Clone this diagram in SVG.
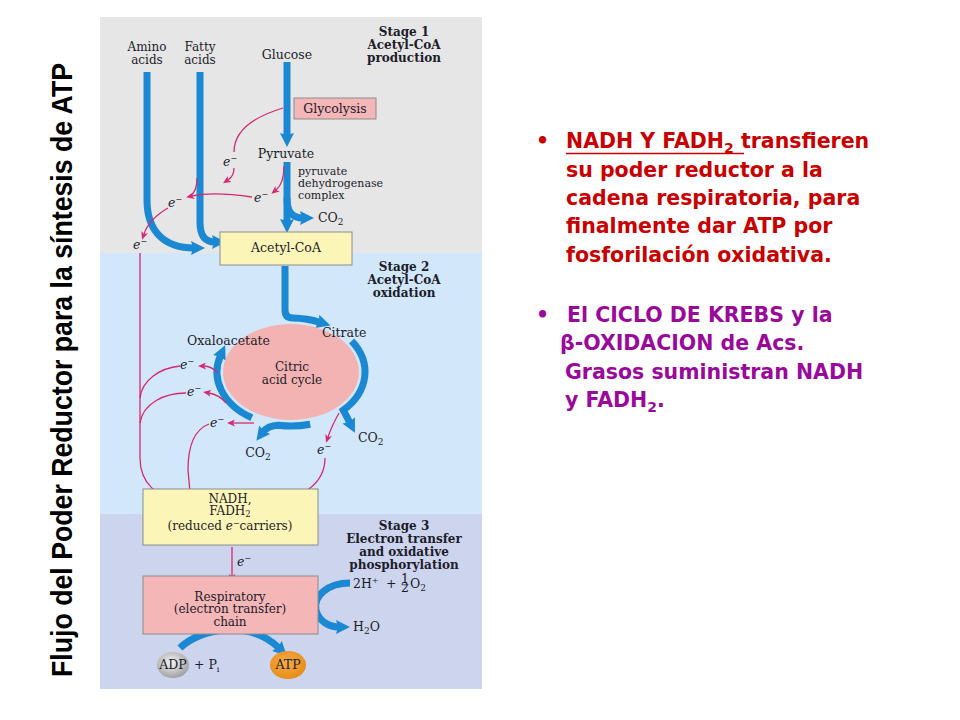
<svg xmlns="http://www.w3.org/2000/svg" width="960" height="720" viewBox="0 0 960 720">
<defs>
<style>
.lbl{font-family:"DejaVu Serif","Liberation Serif",serif;font-size:12.5px;fill:#1c1c2a}
.sm{font-size:11px}
.stk{font-size:12px}
.stg{font-family:"DejaVu Serif","Liberation Serif",serif;font-size:12px;font-weight:bold;fill:#1c1c2a;text-anchor:middle}
.mid{text-anchor:middle}
.blue{fill:none;stroke:#1a88d2;stroke-width:7}
.pink{fill:none;stroke:#d42a72;stroke-width:1.3}
.ybox{fill:#fcf5b8;stroke:#8c8c8c;stroke-width:1}
.pbox{fill:#f4b6b6;stroke:#8c8c8c;stroke-width:1}
.bul{font-family:"DejaVu Sans","Liberation Sans",sans-serif;font-weight:bold;font-size:20.5px}
.red{fill:#c80000}
.pur{fill:#9a0a9a}
</style>
<marker id="ab" markerUnits="userSpaceOnUse" markerWidth="14" markerHeight="14" refX="3" refY="7" orient="auto"><path d="M0,0 L14,7 L0,14 L2,7 z" fill="#1a88d2"/></marker>
<marker id="ap" markerUnits="userSpaceOnUse" markerWidth="8" markerHeight="7" refX="2" refY="3.5" orient="auto"><path d="M0,0 L8,3.5 L0,7 L2,3.5 z" fill="#d42a72"/></marker>
<linearGradient id="gTop" gradientUnits="userSpaceOnUse" x1="0" y1="72" x2="0" y2="140"><stop offset="0" stop-color="#dcebf8"/><stop offset="1" stop-color="#1a88d2"/></linearGradient>
<linearGradient id="gGlu" gradientUnits="userSpaceOnUse" x1="0" y1="62" x2="0" y2="100"><stop offset="0" stop-color="#dcebf8"/><stop offset="1" stop-color="#1a88d2"/></linearGradient>
<linearGradient id="gAc" gradientUnits="userSpaceOnUse" x1="0" y1="266" x2="0" y2="298"><stop offset="0" stop-color="#d8e9f8"/><stop offset="1" stop-color="#1a88d2"/></linearGradient>
<linearGradient id="gR" gradientUnits="userSpaceOnUse" x1="352" y1="340" x2="366" y2="374"><stop offset="0" stop-color="#d8e9f8"/><stop offset="1" stop-color="#1a88d2"/></linearGradient>
<linearGradient id="gB" gradientUnits="userSpaceOnUse" x1="312" y1="424" x2="288" y2="426"><stop offset="0" stop-color="#d8e9f8"/><stop offset="1" stop-color="#1a88d2"/></linearGradient>
<linearGradient id="gL" gradientUnits="userSpaceOnUse" x1="254" y1="419" x2="224" y2="392"><stop offset="0" stop-color="#d8e9f8"/><stop offset="1" stop-color="#1a88d2"/></linearGradient>
<linearGradient id="gH" gradientUnits="userSpaceOnUse" x1="350" y1="583" x2="320" y2="594"><stop offset="0" stop-color="#d4dbf1"/><stop offset="1" stop-color="#1a88d2"/></linearGradient>
<linearGradient id="gA" gradientUnits="userSpaceOnUse" x1="180" y1="648" x2="218" y2="630"><stop offset="0" stop-color="#d4dbf1"/><stop offset="1" stop-color="#1a88d2"/></linearGradient>
<radialGradient id="gADP" cx="0.45" cy="0.4" r="0.65"><stop offset="0" stop-color="#f6f6f6"/><stop offset="1" stop-color="#9a9a9a"/></radialGradient>
<radialGradient id="gATP" cx="0.45" cy="0.4" r="0.65"><stop offset="0" stop-color="#f6ac48"/><stop offset="1" stop-color="#e58a14"/></radialGradient>
</defs>
<rect width="960" height="720" fill="#ffffff"/>

<g id="panel">
<rect x="100" y="17" width="382" height="236" fill="#e6e6e6"/>
<rect x="100" y="253" width="382" height="261" fill="#d2e7f9"/>
<rect x="100" y="514" width="382" height="175" fill="#ccd4ee"/>
</g>

<g id="title">
<text transform="translate(72,370) rotate(-90)" text-anchor="middle" font-family="'Liberation Sans',Arial,sans-serif" font-weight="bold" font-size="29" textLength="614" lengthAdjust="spacingAndGlyphs" fill="#000">Flujo del Poder Reductor para la síntesis de ATP</text>
</g>

<g id="connectors">
<path class="blue" stroke="url(#gTop)" d="M147,72 L147,200 C147,232 165,248 194,248" marker-end="url(#ab)"/>
<path class="blue" stroke="url(#gTop)" d="M200,72 L200,222 C200,236 205,242 215,242" marker-end="url(#ab)"/>
<path class="blue" stroke="url(#gGlu)" d="M287,62 L287,136" marker-end="url(#ab)"/>
<path class="blue" d="M287,162 L287,222" marker-end="url(#ab)"/>
<path class="blue" d="M287,198 C287,212 292,218 303,218" marker-end="url(#ab)"/>
<path class="blue" stroke="url(#gAc)" d="M285,266 L285,310 Q285,318 293,318 A74,54 0 0 1 320,322.3" marker-end="url(#ab)"/>
<path class="blue" stroke="url(#gR)" d="M351.6,341 A74,54 0 0 1 343.3,410.2 C346,415 348,419 350,423" marker-end="url(#ab)"/>
<path class="blue" stroke="url(#gB)" d="M310.2,424.2 A74,54 0 0 1 278.2,425.2 C272,425.5 266,428 263,432" marker-end="url(#ab)"/>
<path class="blue" stroke="url(#gL)" d="M251.8,417.8 A74,54 0 0 1 220.6,355.3" marker-end="url(#ab)"/>
<path class="blue" stroke="url(#gH)" d="M350,583 C328,583 313,596 316,610 C319,622 330,627 339,627" marker-end="url(#ab)"/>
<path class="blue" stroke="url(#gA)" d="M180,648 C200,628 250,620 279,648" marker-end="url(#ab)"/>
<path class="pink" d="M283,108 C250,118 234,132 234,152"/>
<path class="pink" d="M234,168 C234,174 231,178 228,180" marker-end="url(#ap)"/>
<path class="pink" d="M284,166 C284,180 281,186 276,190" marker-end="url(#ap)"/>
<path class="pink" d="M252,197 C232,194 210,192 192,196" marker-end="url(#ap)"/>
<path class="pink" d="M197,178 C197,188 195,193 190,196"/>
<path class="pink" d="M168,208 C156,215 147,225 144,234" marker-end="url(#ap)"/>
<path class="pink" d="M140,253 L140,458 C140,484 158,497 178,500" marker-end="url(#ap)"/>
<path class="pink" d="M218,373 C213,368 209,366 204,366" marker-end="url(#ap)"/>
<path class="pink" d="M180,366 C160,368 142,380 140,398"/>
<path class="pink" d="M226,403 C221,397 215,394 209,393" marker-end="url(#ap)"/>
<path class="pink" d="M186,393 C165,393 143,403 140,423"/>
<path class="pink" d="M254,423 L233,423" marker-end="url(#ap)"/>
<path class="pink" d="M209,424 C193,430 188,448 188,470 L190,492" marker-end="url(#ap)"/>
<path class="pink" d="M339,413 C334,422 330,431 328,437" marker-end="url(#ap)"/>
<path class="pink" d="M325,458 C325,485 300,500 260,506" marker-end="url(#ap)"/>
<path class="pink" d="M232,547 L232,576" marker-end="url(#ap)"/>
</g>

<g id="electrons">
<text class="lbl" x="223" y="166"><tspan font-style="italic">e</tspan><tspan font-size="8" dy="-5">−</tspan></text>
<text class="lbl" x="254" y="202"><tspan font-style="italic">e</tspan><tspan font-size="8" dy="-5">−</tspan></text>
<text class="lbl" x="168" y="207"><tspan font-style="italic">e</tspan><tspan font-size="8" dy="-5">−</tspan></text>
<text class="lbl" x="133" y="249"><tspan font-style="italic">e</tspan><tspan font-size="8" dy="-5">−</tspan></text>
<text class="lbl" x="180" y="369"><tspan font-style="italic">e</tspan><tspan font-size="8" dy="-5">−</tspan></text>
<text class="lbl" x="187" y="396"><tspan font-style="italic">e</tspan><tspan font-size="8" dy="-5">−</tspan></text>
<text class="lbl" x="210" y="427"><tspan font-style="italic">e</tspan><tspan font-size="8" dy="-5">−</tspan></text>
<text class="lbl" x="317" y="454"><tspan font-style="italic">e</tspan><tspan font-size="8" dy="-5">−</tspan></text>
<text class="lbl" x="237" y="566"><tspan font-style="italic">e</tspan><tspan font-size="8" dy="-5">−</tspan></text>
</g>

<g id="stage1">
<text class="stg" x="404" y="36">Stage 1</text>
<text class="stg" x="404" y="49">Acetyl-CoA</text>
<text class="stg" x="404" y="62">production</text>
</g>
<g id="amino"><text class="lbl stk mid" x="147" y="51">Amino</text><text class="lbl stk mid" x="147" y="64">acids</text></g>
<g id="fatty"><text class="lbl stk mid" x="200" y="51">Fatty</text><text class="lbl stk mid" x="200" y="64">acids</text></g>
<g id="glucose"><text class="lbl mid" x="287" y="59">Glucose</text></g>
<g id="glycolysis"><rect class="pbox" x="294" y="98" width="82" height="21"/><text class="lbl mid" x="335" y="113">Glycolysis</text></g>
<g id="pyruvate"><text class="lbl mid" x="286" y="158">Pyruvate</text></g>
<g id="pdh"><text class="lbl sm" x="298" y="175">pyruvate</text><text class="lbl sm" x="298" y="187">dehydrogenase</text><text class="lbl sm" x="298" y="199">complex</text></g>
<g id="co2a"><text class="lbl" x="318" y="222">CO<tspan font-size="9" dy="3">2</tspan></text></g>
<g id="acetylcoa"><rect class="ybox" x="220" y="232" width="132" height="33"/><text class="lbl mid" x="286" y="252">Acetyl-CoA</text></g>

<g id="stage2">
<text class="stg" x="404" y="271">Stage 2</text>
<text class="stg" x="404" y="284">Acetyl-CoA</text>
<text class="stg" x="404" y="297">oxidation</text>
</g>
<g id="cycle">
<ellipse cx="291" cy="372" rx="68" ry="48" fill="#f4b3b3"/>
<text class="lbl stk mid" x="292" y="371">Citric</text>
<text class="lbl stk mid" x="292" y="384">acid cycle</text>
</g>
<g id="citrate"><text class="lbl" x="322" y="337">Citrate</text></g>
<g id="oxaloacetate"><text class="lbl" x="187" y="345">Oxaloacetate</text></g>
<g id="co2b"><text class="lbl mid" x="258" y="457">CO<tspan font-size="9" dy="3">2</tspan></text></g>
<g id="co2c"><text class="lbl" x="358" y="442">CO<tspan font-size="9" dy="3">2</tspan></text></g>
<g id="nadh">
<rect class="ybox" x="143" y="489" width="175" height="56"/>
<text class="lbl stk mid" x="230" y="503">NADH,</text>
<text class="lbl stk mid" x="230" y="515">FADH<tspan font-size="8.5" dy="2">2</tspan></text>
<text class="lbl stk mid" x="230" y="530">(reduced <tspan font-style="italic">e</tspan><tspan font-size="8" dy="-4">−</tspan><tspan dy="4">carriers)</tspan></text>
</g>

<g id="stage3">
<text class="stg" x="404" y="530">Stage 3</text>
<text class="stg" x="404" y="543">Electron transfer</text>
<text class="stg" x="404" y="556">and oxidative</text>
<text class="stg" x="404" y="569">phosphorylation</text>
</g>
<g id="respiratory">
<rect class="pbox" x="143" y="576" width="175" height="58"/>
<text class="lbl stk mid" x="230" y="601">Respiratory</text>
<text class="lbl stk mid" x="230" y="613">(electron transfer)</text>
<text class="lbl stk mid" x="230" y="626">chain</text>
</g>
<g id="oxygen">
<text class="lbl" x="353" y="588">2H<tspan font-size="8" dy="-5">+</tspan></text>
<text class="lbl" x="386" y="588">+</text>
<text class="lbl mid" x="405" y="583" font-size="7.5">1</text>
<line x1="401.5" y1="584.8" x2="408.5" y2="584.8" stroke="#1c1c2a" stroke-width="0.7"/>
<text class="lbl mid" x="405" y="592" font-size="7.5">2</text>
<text class="lbl" x="410" y="588">O<tspan font-size="9" dy="3">2</tspan></text>
</g>
<g id="water"><text class="lbl" x="353" y="631">H<tspan font-size="9" dy="3">2</tspan><tspan dy="-3">O</tspan></text></g>
<g id="adp">
<ellipse cx="173" cy="665" rx="16" ry="13" fill="url(#gADP)"/>
<text class="lbl mid" x="173" y="669">ADP</text>
<text class="lbl" x="194" y="669">+ P<tspan font-size="8" dy="3">i</tspan></text>
</g>
<g id="atp">
<ellipse cx="288" cy="665" rx="18" ry="14" fill="url(#gATP)"/>
<text class="lbl mid" x="288" y="669">ATP</text>
</g>

<g id="notes">
<text class="bul red" x="536" y="148">•</text>
<text class="bul red" x="566" y="148">NADH Y FADH<tspan font-size="14" dy="5">2</tspan><tspan dy="-5"> transfieren</tspan></text>
<line x1="566" y1="153.5" x2="744" y2="153.5" stroke="#c80000" stroke-width="1.6"/>
<text class="bul red" x="566" y="177">su poder reductor a la</text>
<text class="bul red" x="566" y="205">cadena respiratoria, para</text>
<text class="bul red" x="566" y="233">finalmente dar ATP por</text>
<text class="bul red" x="566" y="262">fosforilación oxidativa.</text>
<text class="bul pur" x="536" y="322">•</text>
<text class="bul pur" x="567" y="322">El CICLO DE KREBS y la</text>
<text class="bul pur" x="560" y="350">β-OXIDACION de Acs.</text>
<text class="bul pur" x="565" y="379">Grasos suministran NADH</text>
<text class="bul pur" x="565" y="407">y FADH<tspan font-size="14" dy="5">2</tspan><tspan dy="-5">.</tspan></text>
</g>
</svg>
